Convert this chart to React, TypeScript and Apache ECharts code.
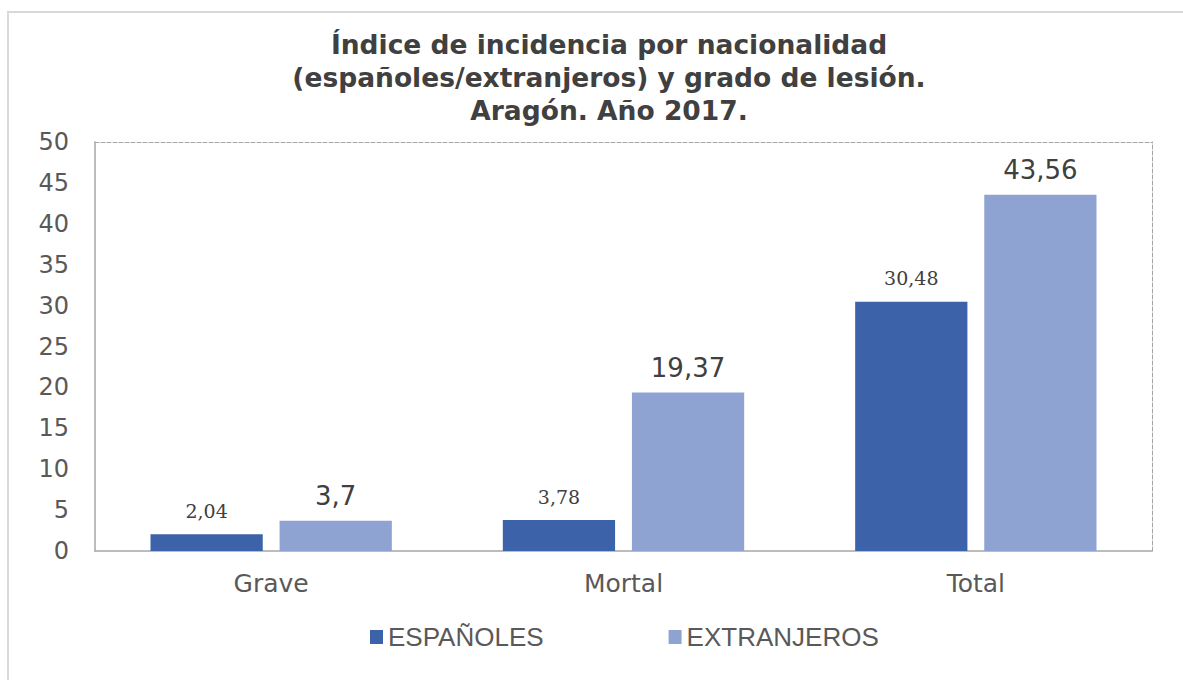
import React, { useEffect, useRef } from "react";
import * as echarts from "echarts";

const titleLines = [
  "Índice de incidencia por nacionalidad",
  "(españoles/extranjeros) y grado de lesión.",
  "Aragón. Año 2017.",
];
const categories = ["Grave", "Mortal", "Total"];
const seriesNames = ["ESPAÑOLES", "EXTRANJEROS"];
const espanoles = [2.04, 3.78, 30.48];
const extranjeros = [3.7, 19.37, 43.56];
const yMin = 0;
const yMax = 50;
const yStep = 5;

const fmt = (v: number) => String(v).replace(".", ",");

export default function App() {
  const ref = useRef<HTMLDivElement>(null);
  useEffect(() => {
    if (!ref.current) return;
    const chart = echarts.init(ref.current, null, { renderer: "svg" });
    const axisGrey = "#a6a6a6";
    chart.setOption({
      animation: false,
      backgroundColor: "#ffffff",
      graphic: [
        {
          type: "polyline",
          shape: { points: [[8, 700], [8, 12], [1200, 12]] },
          style: { stroke: "#d9d9d9", lineWidth: 2, fill: "none" },
          silent: true,
        },
        {
          type: "text",
          x: 609,
          y: 28,
          silent: true,
          style: {
            text: titleLines.join("\n"),
            align: "center",
            verticalAlign: "top",
            fontFamily: "DejaVu Sans",
            fontWeight: "bold",
            fontSize: 26.5,
            lineHeight: 33,
            fill: "#404040",
          },
        },
      ],
      legend: {
        left: 365,
        top: 619,
        itemWidth: 13,
        itemHeight: 14,
        itemGap: 125,
        icon: "rect",
        data: seriesNames,
        textStyle: {
          fontFamily: "Liberation Sans",
          fontSize: 26,
          color: "#595959",
        },
      },
      grid: { left: 95, right: 31, top: 142, bottom: 129 },
      xAxis: [
        {
          type: "category",
          data: categories,
          axisLine: { lineStyle: { color: axisGrey, width: 1.5 } },
          axisTick: { show: false },
          axisLabel: {
            margin: 20,
            fontFamily: "DejaVu Sans",
            fontSize: 25,
            color: "#595959",
          },
        },
        {
          type: "category",
          data: categories,
          position: "top",
          axisLine: {
            onZero: false,
            lineStyle: { color: axisGrey, type: "dashed", width: 1 },
          },
          axisTick: { show: false },
          axisLabel: { show: false },
        },
      ],
      yAxis: [
        {
          type: "value",
          min: yMin,
          max: yMax,
          interval: yStep,
          axisLine: { show: true, lineStyle: { color: axisGrey, width: 1.5 } },
          axisTick: { show: false },
          splitLine: { show: false },
          axisLabel: {
            margin: 26,
            fontFamily: "DejaVu Sans",
            fontSize: 24,
            color: "#595959",
          },
        },
        {
          type: "value",
          min: yMin,
          max: yMax,
          interval: yStep,
          position: "right",
          axisLine: {
            show: true,
            onZero: false,
            lineStyle: { color: axisGrey, type: "dashed", width: 1 },
          },
          axisTick: { show: false },
          splitLine: { show: false },
          axisLabel: { show: false },
        },
      ],
      series: [
        {
          name: seriesNames[0],
          type: "bar",
          data: espanoles,
          barCategoryGap: "31.5%",
          barGap: "15%",
          itemStyle: { color: "#3c63aa" },
          label: {
            show: true,
            position: "top",
            distance: 14,
            formatter: (p: any) => fmt(p.value),
            fontFamily: "DejaVu Serif",
            fontSize: 19,
            color: "#404040",
          },
        },
        {
          name: seriesNames[1],
          type: "bar",
          data: extranjeros,
          barCategoryGap: "31.5%",
          barGap: "15%",
          itemStyle: { color: "#8fa3d3" },
          label: {
            show: true,
            position: "top",
            distance: 12,
            formatter: (p: any) => fmt(p.value),
            fontFamily: "DejaVu Sans",
            fontSize: 26,
            color: "#404040",
          },
        },
      ],
    });
    return () => chart.dispose();
  }, []);
  return (
    <div
      ref={ref}
      style={{ position: "fixed", left: 0, top: 0, width: 1183, height: 680 }}
    />
  );
}
